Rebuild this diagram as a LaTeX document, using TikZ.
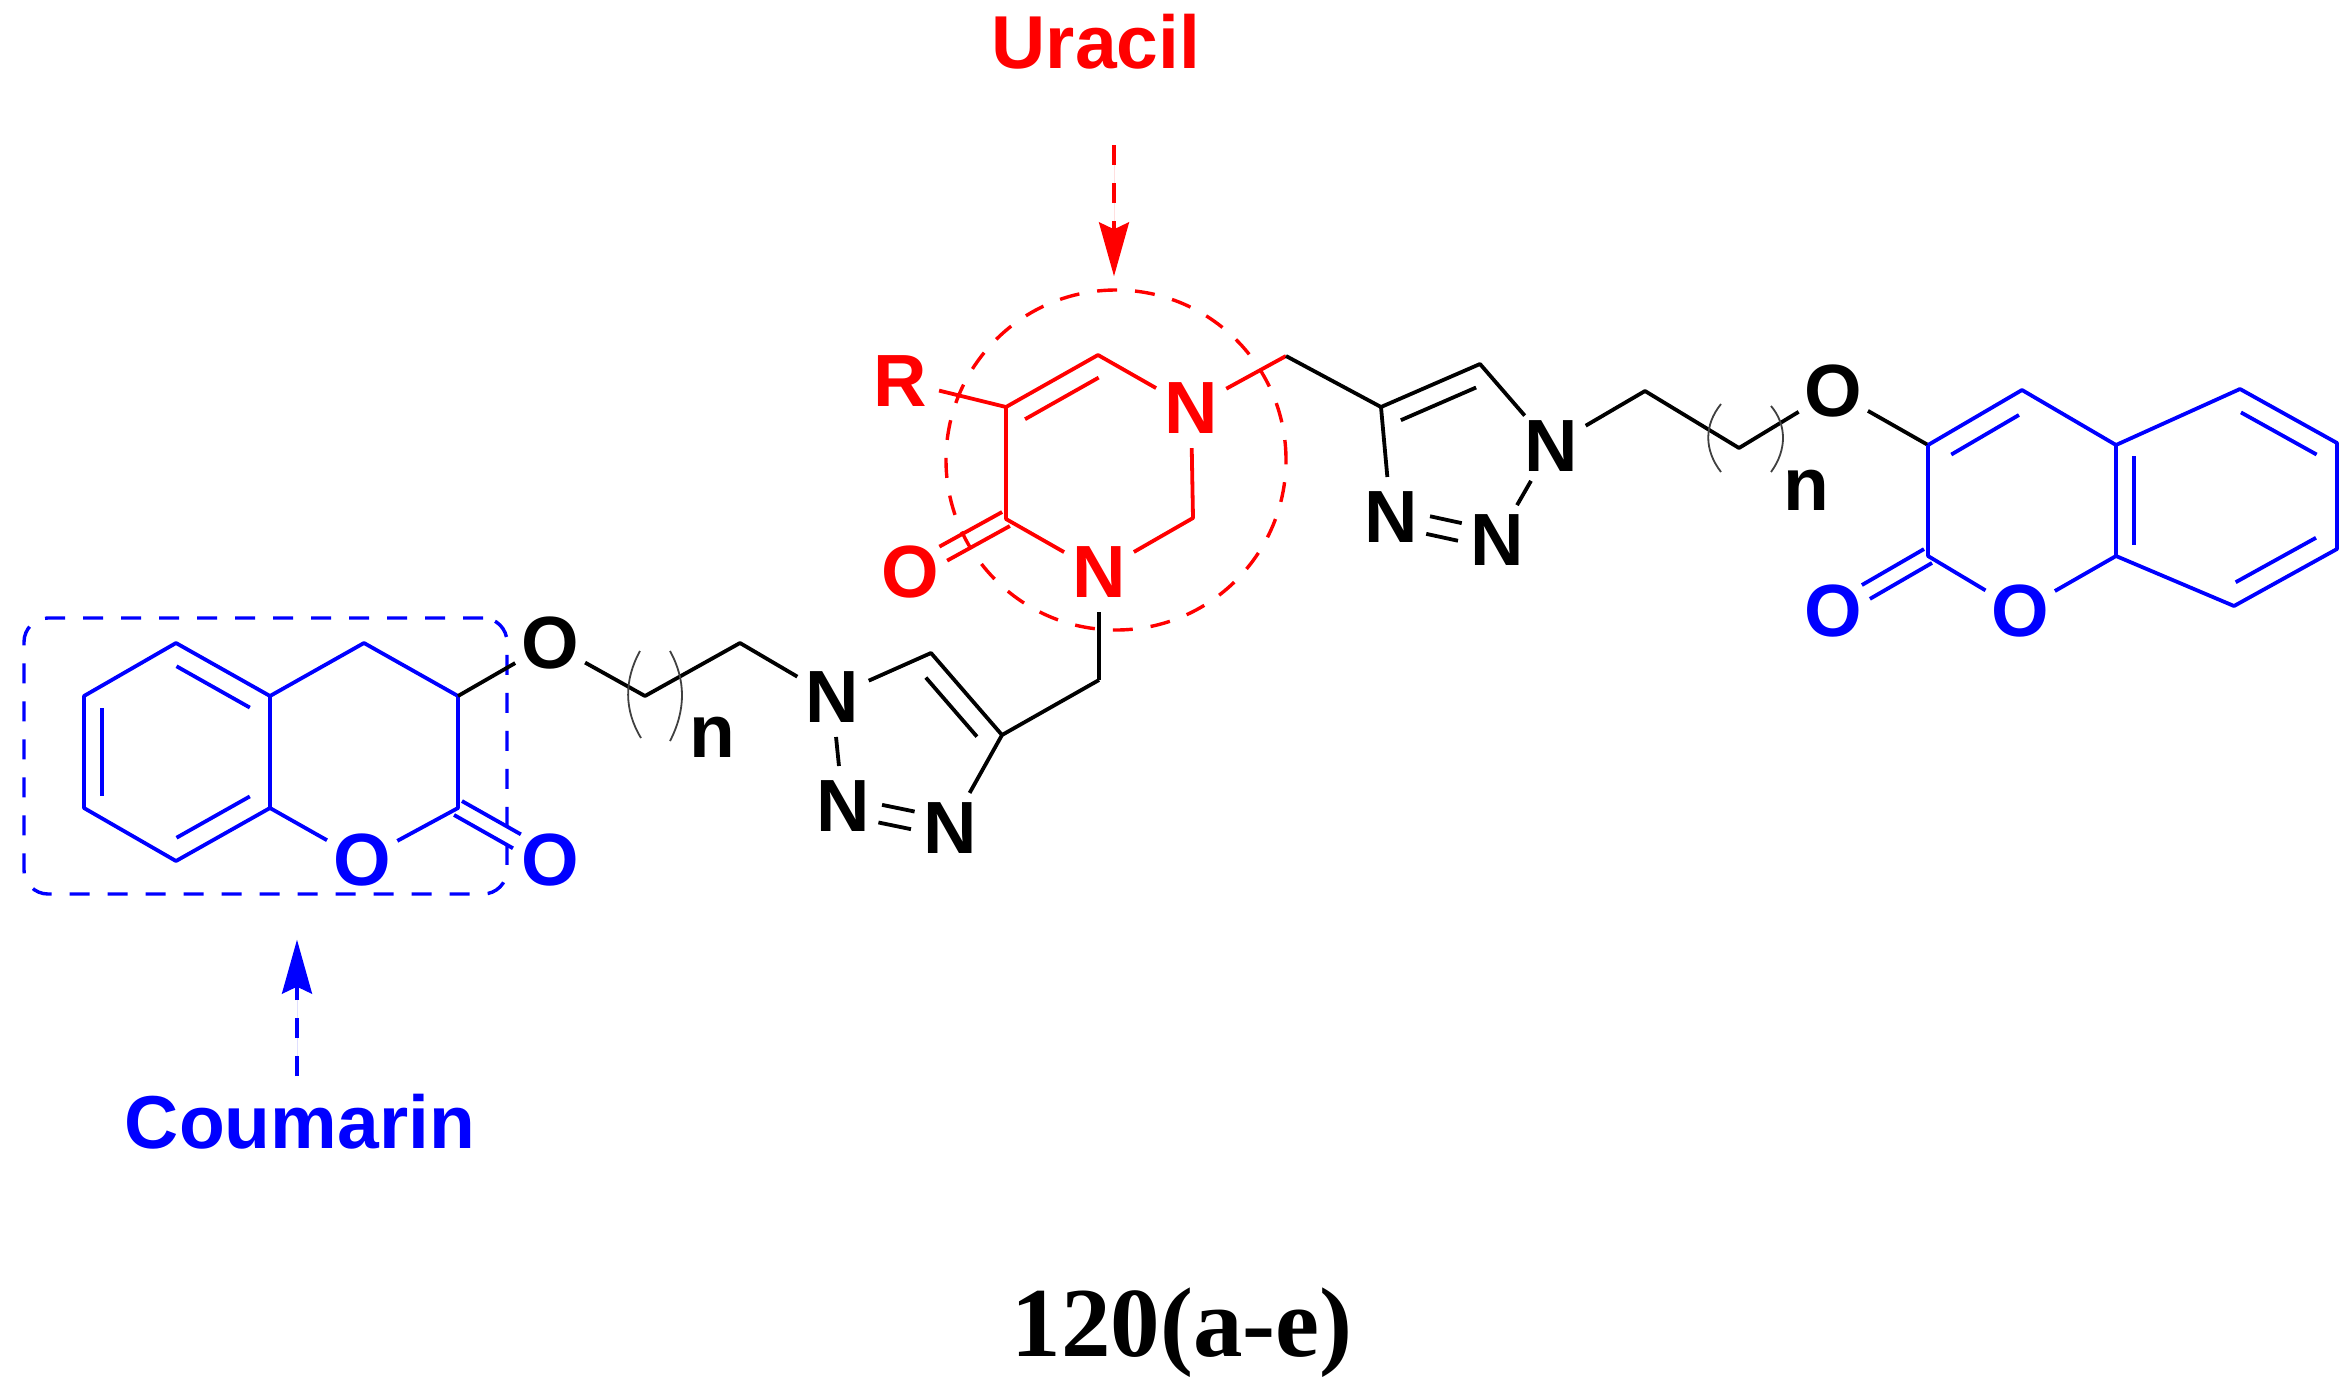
\documentclass[tikz,border=0pt]{standalone}
\usepackage{fontspec}
\setmainfont{Liberation Sans}
\newfontfamily\titlefont{Liberation Serif}
\usetikzlibrary{calc,arrows.meta}
\definecolor{cblue}{RGB}{0,0,255}
\definecolor{cred}{RGB}{255,0,0}
\newcommand{\innerb}[4]{\draw ($(#1)!#3!(#2)!#4pt!90:(#2)$) -- ($(#2)!#3!(#1)!#4pt!-90:(#1)$);}
\newcommand{\dblb}[5]{%
  \draw[shorten <=#4pt,shorten >=#5pt] ($(#1)!#3pt!90:(#2)$) -- ($(#2)!#3pt!-90:(#1)$);%
  \draw[shorten <=#4pt,shorten >=#5pt] ($(#1)!#3pt!-90:(#2)$) -- ($(#2)!#3pt!90:(#1)$);}
\tikzset{
  x=1pt,y=-1pt,
  bond/.style={line width=3.8pt,line join=round},
  blackbond/.style={bond,draw=black},
  bluebond/.style={bond,draw=cblue},
  redbond/.style={bond,draw=cred},
  atom/.style={circle,minimum size=80pt,inner sep=0pt,font=\fontsize{74}{74}\selectfont\bfseries},
  subnote/.style={inner sep=0pt,font=\fontsize{75}{75}\selectfont\bfseries},
  paren/.style={line width=1.8pt,draw=black!75},
  dashline/.style={line width=3.4pt,dash pattern=on 20pt off 18pt},
  pointer/.style={dashline,-{Stealth[length=54pt,width=30pt,inset=7pt]}},
}
\begin{document}
\begin{tikzpicture}
\useasboundingbox (0,0) rectangle (2351,1390);
% ---------- labels
\node[subnote,text=cred] (uracil) at (1096,42) {Uracil};
\node[subnote,text=cblue] (coumarin) at (300,1122) {Coumarin};
\node[inner sep=0pt,font=\titlefont\fontsize{99}{99}\selectfont\bfseries] (title) at (1182,1333) {120(a-e)};
% ---------- highlight outlines
\node[draw=cred,circle,dashline,minimum size=340pt,inner sep=0pt] (ring) at (1116,460) {};
\node[draw=cblue,rectangle,rounded corners=24pt,dashline,minimum width=483pt,minimum height=276pt,inner sep=0pt] (cbox) at (265.5,756) {};
\coordinate (utail) at (1114,145);
\coordinate (ctail) at (297,1076);
\draw[pointer,draw=cred,fill=cred,shorten >=12pt] (utail) -- (utail |- ring.north);
\draw[pointer,draw=cblue,fill=cblue,shorten >=44pt] (ctail) -- (ctail |- cbox.south);
% ---------- left coumarin
\foreach \n/\p in {a1/{84,696},a2/{176,643},a3/{270,696},a4/{270,808},a5/{176,861},a6/{84,808},b1/{364,643},b2/{458,696},b3/{458,808}}
  \coordinate (\n) at (\p);
\node[atom,text=cblue] (lO1) at (362,860) {O};
\node[atom,text=cblue] (lO2) at (550,860) {O};
\node[atom] (lO3) at (550,643) {O};
\begin{scope}[every path/.style={bluebond}]
\draw (a1) -- (a2) -- (a3) -- (a4) -- (a5) -- (a6) -- cycle;
\draw (a3) -- (b1) -- (b2) -- (b3) -- (lO1) -- (a4);
\innerb{a3}{a2}{.11}{20}
\innerb{a1}{a6}{.11}{18}
\innerb{a5}{a4}{.11}{20}
\dblb{b3}{lO2}{8}{0}{38}
\end{scope}
% ---------- left linker
\coordinate (lc1) at (645,696);
\coordinate (lc2) at (740,643);
\node[atom] (lN1) at (832,697) {N};
\node[atom] (lN2) at (843,806) {N};
\node[atom] (lN3) at (950,828) {N};
\coordinate (lt5) at (931,653);
\coordinate (lt4) at (1002,735);
\coordinate (lm) at (1099,680);
\node[subnote] (ln) at (712,737) {n};
\begin{scope}[every path/.style={blackbond}]
\draw (b2) -- (lO3);
\draw (lO3) -- (lc1) -- (lc2) -- (lN1) -- (lt5) -- (lt4) -- (lN3);
\draw (lN1) -- (lN2);
\dblb{lN2}{lN3}{9}{38}{38}
\innerb{lt4}{lt5}{.14}{20}
\draw (lt4) -- (lm);
\end{scope}
\draw[paren] (640,651) .. controls (624,680) and (624,710) .. (641,738);
\draw[paren] (670,651) .. controls (686,680) and (686,710) .. (670,741);
% ---------- uracil
\coordinate (c5) at (1006,407);
\coordinate (c6) at (1098,355);
\coordinate (c2) at (1193,518);
\coordinate (c4) at (1006,519);
\coordinate (rm) at (1286,356);
\node[atom,text=cred] (uN1) at (1191,408) {N};
\node[atom,text=cred] (uN3) at (1099,572) {N};
\node[atom,text=cred] (uO) at (910,572) {O};
\node[atom,text=cred] (uR) at (900,381) {R};
\begin{scope}[every path/.style={redbond}]
\draw (uR) -- (c5) -- (c6) -- (uN1) -- (c2) -- (uN3) -- (c4) -- (c5);
\innerb{c6}{c5}{.1}{20}
\dblb{c4}{uO}{8}{0}{38}
\draw (uN1) -- (rm);
\end{scope}
\draw[blackbond] (uN3) -- (lm);
% ---------- right linker
\coordinate (t4) at (1381,407);
\coordinate (t5) at (1480,364);
\node[atom] (tN1) at (1551,446) {N};
\node[atom] (tN2) at (1497,540) {N};
\node[atom] (tN3) at (1391,517) {N};
\coordinate (rc1) at (1645,391);
\coordinate (rc2) at (1739,448);
\node[atom] (rO3) at (1833,391) {O};
\node[subnote] (rn) at (1806,490) {n};
\coordinate (q3) at (1928,445);
\begin{scope}[every path/.style={blackbond}]
\draw (rm) -- (t4) -- (t5) -- (tN1) -- (tN2);
\draw (t4) -- (tN3);
\innerb{t5}{t4}{.12}{20}
\dblb{tN3}{tN2}{9}{38}{38}
\draw (tN1) -- (rc1) -- (rc2) -- (rO3) -- (q3);
\end{scope}
\draw[paren] (1721,404) .. controls (1704,425) and (1704,450) .. (1721,472);
\draw[paren] (1771,406) .. controls (1787,425) and (1787,450) .. (1771,472);
% ---------- right coumarin
\foreach \n/\p in {q4/{2022,390},r1/{2116,445},r2/{2240,389},r3/{2337,443},r4/{2337,549},r5/{2234,606},r6/{2116,556},q2/{1928,556}}
  \coordinate (\n) at (\p);
\node[atom,text=cblue] (rO1) at (2020,611) {O};
\node[atom,text=cblue] (rO2) at (1833,611) {O};
\begin{scope}[every path/.style={bluebond}]
\draw (q3) -- (q4) -- (r1) -- (r2) -- (r3) -- (r4) -- (r5) -- (r6) -- (r1);
\draw (q3) -- (q2) -- (rO1) -- (r6);
\innerb{q4}{q3}{.14}{20}
\innerb{r1}{r6}{.1}{18}
\innerb{r3}{r2}{.11}{20}
\innerb{r5}{r4}{.11}{20}
\dblb{q2}{rO2}{8}{0}{38}
\end{scope}
\end{tikzpicture}
\end{document}
